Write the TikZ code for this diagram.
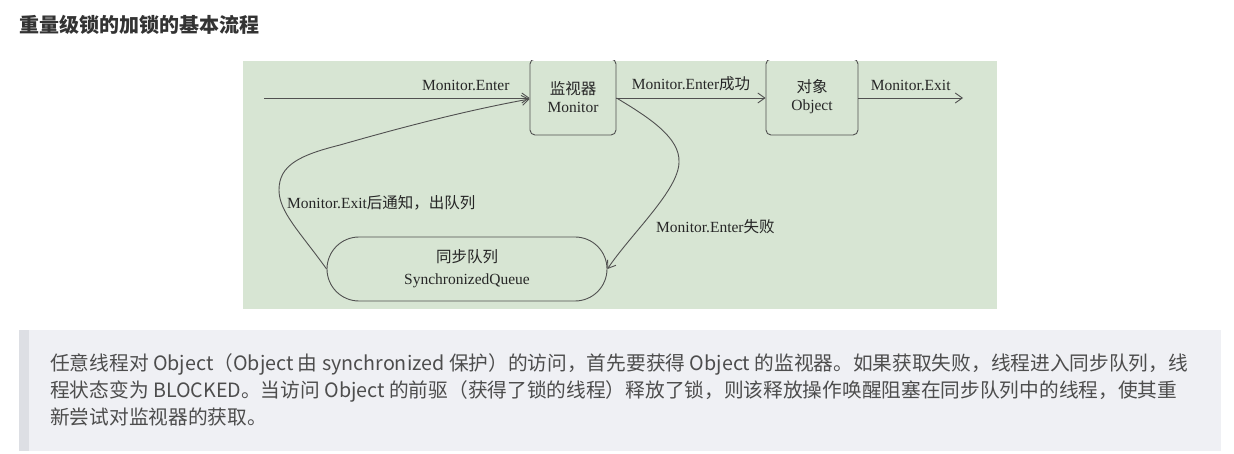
\documentclass[tikz,border=0pt]{standalone}
\usepackage{fontspec}
\setmainfont{Liberation Serif}
\newfontfamily\cjk{Noto Sans CJK SC}
\usetikzlibrary{arrows.meta, positioning}
\definecolor{figgreen}{RGB}{215,229,211}
\definecolor{quotebg}{RGB}{239,240,244}
\definecolor{quotebar}{RGB}{221,223,228}
\definecolor{titlegray}{RGB}{51,51,51}
\definecolor{bodygray}{RGB}{77,77,77}
\definecolor{linegray}{RGB}{80,80,80}
\newcommand{\diagfont}{\fontsize{15.5}{18}\selectfont}
\tikzset{
  state box/.style={
    draw=linegray, line width=0.9pt, rounded corners=5pt,
    minimum height=76pt, inner sep=0pt, align=center,
    text=black!85, font=\diagfont
  },
  queue box/.style={
    draw=linegray, line width=0.9pt, rounded corners=32pt,
    minimum width=280pt, minimum height=64pt, inner sep=0pt,
    align=center, text=black!85, font=\fontsize{15.5}{22}\selectfont
  },
  flow arrow/.style={
    -{Straight Barb[length=7pt, width=10pt]}, line width=0.9pt, draw=linegray
  },
  flow label/.style={
    font=\diagfont, text=black!85, inner sep=1pt
  },
  quote line/.style={
    anchor=base west, inner sep=0pt, text=bodygray,
    font=\cjk\fontsize{19.7}{27}\selectfont
  },
}
\begin{document}
\begin{tikzpicture}[x=1pt, y=-1pt]
  \useasboundingbox (0,0) rectangle (1234,454);
  \fill[white] (0,0) rectangle (1234,454);

  % Title
  \node[anchor=base west, inner sep=0pt, text=titlegray,
    font=\cjk\bfseries\fontsize{20}{24}\selectfont] (title) at (19,32.5)
    {重量级锁的加锁的基本流程};

  % Figure background
  \fill[figgreen] (243,61) rectangle (997,309);

  % Boxes (tops cut off by the figure edge)
  \begin{scope}
    \clip (243,61) rectangle (997,309);
    \node[state box, minimum width=86pt] (monitor) at (573,97) {{\cjk 监视器}\\Monitor};
    \node[state box, minimum width=92pt] (object) at (812,97) {{\cjk 对象}\\Object};
  \end{scope}
  \node[queue box] (queue) at (467,269) {{\cjk 同步队列}\\SynchronizedQueue};

  % Free ends
  \coordinate (entry) at (264,98);
  \coordinate (exit) at (963,98);

  % Main flow
  \draw[flow arrow] (entry) -- (entry -| monitor.west)
    node[flow label, pos=0.76, above=6pt] {Monitor.Enter};
  \draw[flow arrow] (monitor.east |- entry) -- (object.west |- entry)
    node[flow label, midway, above=6pt] {Monitor.Enter{\cjk 成功}};
  \draw[flow arrow] (object.east |- exit) -- (exit)
    node[flow label, midway, above=6pt] {Monitor.Exit};

  % Enter failed: into the queue
  \draw[flow arrow] (monitor.east |- entry) .. controls (650,118) and (680,138) .. (679,162)
    .. controls (679,190) and (630,235) .. (queue.east);
  \node[flow label, anchor=west] (faillabel) at (655,227) {Monitor.Enter{\cjk 失败}};

  % Notified after exit: back to the monitor
  \draw[flow arrow] (queue.west) .. controls (300,232) and (279,212) .. (279,190)
    .. controls (279,165) and (300,155) .. (340,145)
    .. controls (420,122) and (480,108) .. ([yshift=-2pt]monitor.west);
  \node[flow label, anchor=west] (notifylabel) at (286,203) {Monitor.Exit{\cjk 后通知，出队列}};

  % Quote block
  \fill[quotebg] (19,330) rectangle (1221,451);
  \fill[quotebar] (19,330) rectangle (29,451);
  \node[quote line] (line1) at (50,370) {任意线程对 Object（Object 由 synchronized 保护）的访问，首先要获得 Object 的监视器。如果获取失败，线程进入同步队列，线};
  \node[quote line] (line2) at (50,397) {程状态变为 BLOCKED。当访问 Object 的前驱（获得了锁的线程）释放了锁，则该释放操作唤醒阻塞在同步队列中的线程，使其重};
  \node[quote line] (line3) at (50,424) {新尝试对监视器的获取。};
\end{tikzpicture}
\end{document}
